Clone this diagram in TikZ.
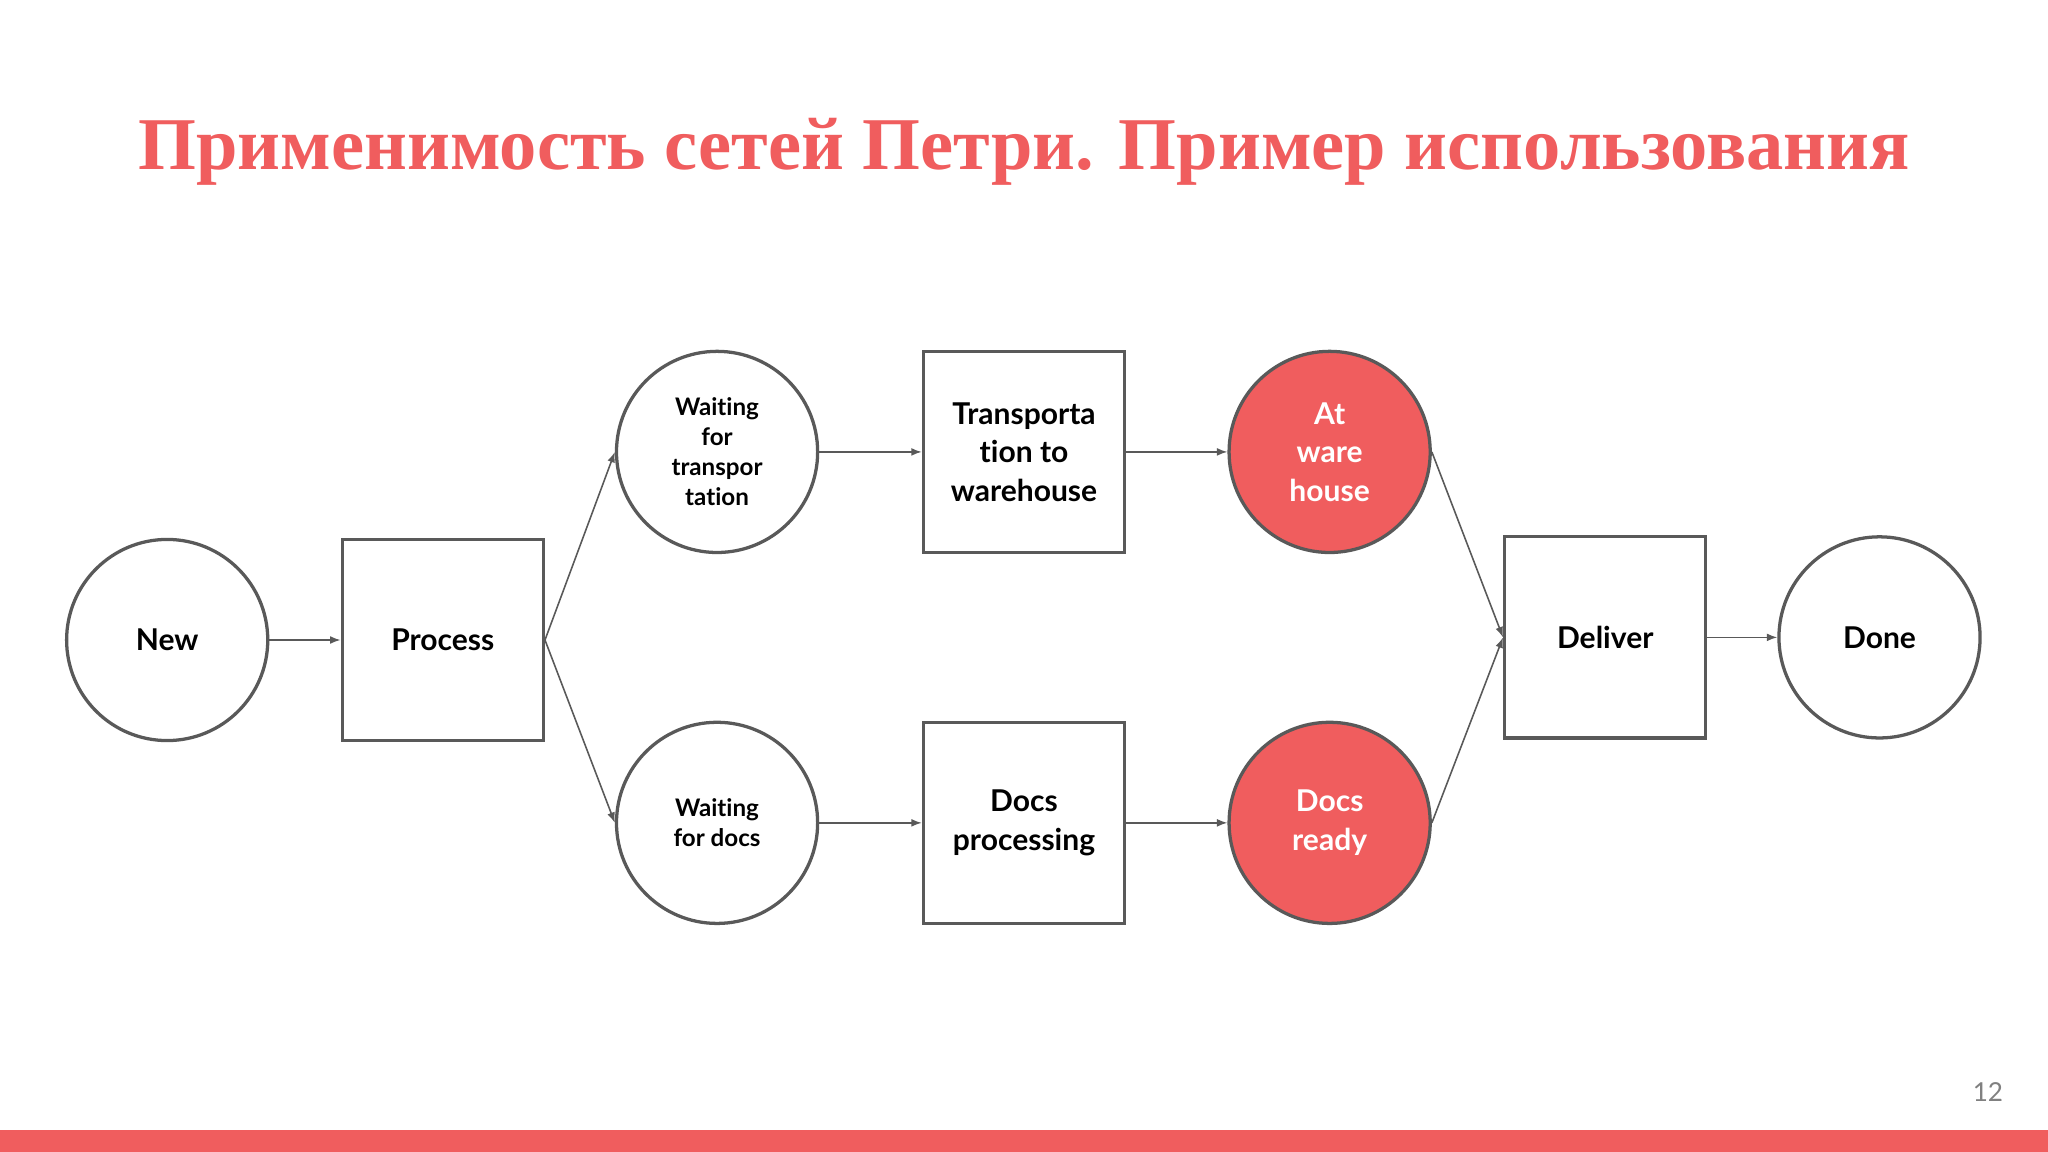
\documentclass[tikz,border=0pt]{standalone}
\usepackage{fontspec}
\setmainfont[Ligatures=NoCommon]{Lato}
\newfontfamily\titlefont{Liberation Serif}
\usetikzlibrary{arrows.meta}
\definecolor{redc}{HTML}{F05D5E}
\definecolor{edgec}{HTML}{595959}
\begin{document}
\begin{tikzpicture}[x=1pt,y=-1pt,
  place/.style={circle,draw=edgec,line width=2.5pt,minimum size=154pt,inner sep=0pt,align=center,font=\bfseries\fontsize{23}{29.5}\selectfont},
  small/.style={font=\bfseries\fontsize{18.5}{23}\selectfont},
  hot/.style={fill=redc,text=white},
  trans/.style={rectangle,draw=edgec,line width=2.5pt,minimum size=154pt,inner sep=0pt,align=center,font=\bfseries\fontsize{23}{29.5}\selectfont},
  arr/.style={draw=edgec,line width=1.2pt,-{Latex[length=8pt,width=6pt]}}]
\fill[white] (0,0) rectangle (1568,882);
\useasboundingbox (0,0) rectangle (1568,882);
\fill[redc] (0,865) rectangle (1568,882);
\node[text=redc,font=\titlefont\bfseries\fontsize{57}{62}\selectfont] (title) at (784,116) {Применимость сетей Петри. Пример использования};
\node[text=gray,font=\fontsize{20}{24}\selectfont] (pg) at (1522,836) {12};
\node[place] (new) at (128,490) {New};
\node[trans] (proc) at (339,490) {Process};
\node[place,small] (wt) at (549,346) {Waiting\\for\\transpor\\tation};
\node[trans] (tw) at (784,346) {Transporta\\tion to\\warehouse};
\node[place,hot] (aw) at (1018,346) {At\\ware\\house};
\node[place,small] (wd) at (549,630) {Waiting\\for docs};
\node[trans] (dp) at (784,630) {Docs\\processing};
\node[place,hot] (dr) at (1018,630) {Docs\\ready};
\node[trans] (del) at (1229,488) {Deliver};
\node[place] (done) at (1439,488) {Done};
\draw[arr] (new) -- (proc);
\draw[arr] (proc.east) -- (wt.west);
\draw[arr] (proc.east) -- (wd.west);
\draw[arr] (wt) -- (tw);
\draw[arr] (wd) -- (dp);
\draw[arr] (tw) -- (aw);
\draw[arr] (dp) -- (dr);
\draw[arr] (aw.east) -- (del.west);
\draw[arr] (dr.east) -- (del.west);
\draw[arr] (del) -- (done);
\end{tikzpicture}
\end{document}
